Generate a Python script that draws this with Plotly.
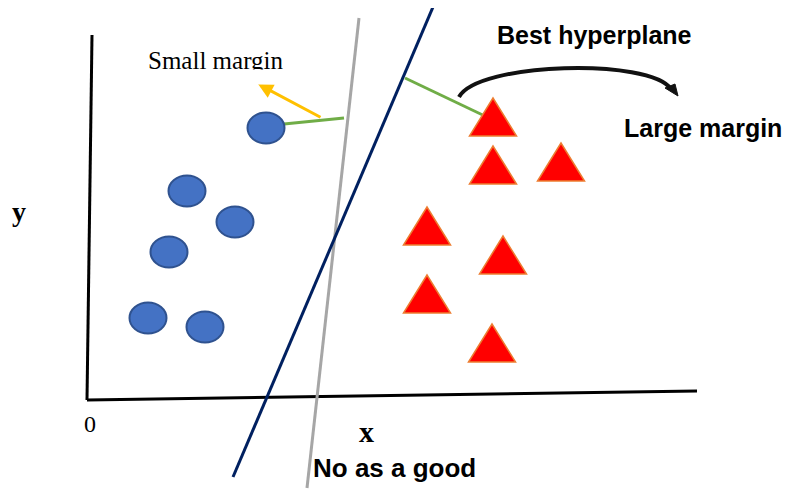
import plotly.graph_objects as go

# diagram drawn in pixel space of the original picture (y grows downward)
W, H = 791, 491
PAD = 8  # the page body adds 8px around the figure

# class A points (blue circles) and class B points (red triangles)
circle_x = [266, 187, 235, 169, 148, 205]
circle_y = [128, 191, 222, 252, 318, 327]
triangle_x = [493, 493, 561, 427, 503, 427, 492]
triangle_y = [117, 165, 162, 226, 255, 294, 343]

# axes of the sketch
y_axis_x = [92, 87]
y_axis_y = [35, 400]
x_axis_x = [87, 697]
x_axis_y = [400, 391]

# separating lines
gray_line_x = [359, 307]
gray_line_y = [18, 488]
best_line_x = [433, 233]
best_line_y = [7, 477]

# margin segments
small_margin_x = [284, 344]
small_margin_y = [124, 118]
large_margin_x = [405, 489]
large_margin_y = [78, 118]

circle_w, circle_h = 37, 31
tri_w, tri_h = 47, 38

fig = go.Figure()

shapes = []


def line(xs, ys, color, width):
    shapes.append(dict(type="line", xref="x", yref="y",
                       x0=xs[0], y0=ys[0], x1=xs[1], y1=ys[1],
                       line=dict(color=color, width=width)))


line(y_axis_x, y_axis_y, "black", 3)
line(x_axis_x, x_axis_y, "black", 3)
line(gray_line_x, gray_line_y, "#a6a6a6", 3)
line(best_line_x, best_line_y, "#002060", 3)
line(small_margin_x, small_margin_y, "#70ad47", 3)
line(large_margin_x, large_margin_y, "#70ad47", 3)

for cx, cy in zip(circle_x, circle_y):
    shapes.append(dict(type="circle", xref="x", yref="y",
                       x0=cx - circle_w / 2, x1=cx + circle_w / 2,
                       y0=cy - circle_h / 2, y1=cy + circle_h / 2,
                       fillcolor="#4472c4", line=dict(color="#2f528f", width=2)))

for tx, ty in zip(triangle_x, triangle_y):
    path = (f"M {tx - tri_w / 2},{ty + tri_h / 2} L {tx + tri_w / 2},{ty + tri_h / 2} "
            f"L {tx},{ty - tri_h / 2} Z")
    shapes.append(dict(type="path", xref="x", yref="y", path=path,
                       fillcolor="#ff0000", line=dict(color="#ed7d31", width=1.5)))

# curved arrow over the large margin
shapes.append(dict(type="path", xref="x", yref="y",
                   path="M 459,97 C 478,62 650,58 671,89",
                   line=dict(color="#111111", width=4)))
shapes.append(dict(type="path", xref="x", yref="y",
                   path="M 665,88 L 678,96 L 675,84 Z",
                   fillcolor="#111111", line=dict(color="#111111", width=1)))

fig.update_layout(shapes=shapes)

# invisible trace so the axes exist
fig.add_trace(go.Scatter(x=circle_x, y=circle_y, mode="markers",
                         marker=dict(opacity=0), hoverinfo="skip", showlegend=False))

annotations = [
    # orange arrow for the small margin
    dict(x=258, y=84, ax=322, ay=118, xref="x", yref="y", axref="x", ayref="y",
         text="", showarrow=True, arrowhead=2, arrowsize=1, arrowwidth=3,
         arrowcolor="#ffc000"),
    dict(x=215, y=60, text="Small margin", showarrow=False,
         font=dict(family="Liberation Serif", size=25, color="black")),
    # the original cuts the bottom of this label off
    dict(x=215, y=77, text=" ", showarrow=False, width=160, height=12,
         bgcolor="white", font=dict(size=8)),
    dict(x=594, y=35, text="<b>Best hyperplane</b>", showarrow=False,
         font=dict(family="Liberation Sans", size=25, color="black")),
    dict(x=703, y=128, text="<b>Large margin</b>", showarrow=False,
         font=dict(family="Liberation Sans", size=25, color="black")),
    dict(x=19, y=211, text="<b>y</b>", showarrow=False,
         font=dict(family="Liberation Serif", size=28, color="black")),
    dict(x=90, y=424, text="0", showarrow=False,
         font=dict(family="Liberation Serif", size=24, color="black")),
    dict(x=366, y=431, text="<b>x</b>", showarrow=False,
         font=dict(family="Liberation Serif", size=30, color="black")),
    dict(x=394, y=468, text="<b>No as a good</b>", showarrow=False,
         font=dict(family="Liberation Sans", size=26, color="black")),
]

fig.update_layout(
    annotations=annotations,
    width=W - PAD, height=H - PAD,
    margin=dict(l=0, r=0, t=0, b=0),
    paper_bgcolor="white", plot_bgcolor="white",
    xaxis=dict(range=[PAD, W], visible=False, fixedrange=True),
    yaxis=dict(range=[H, PAD], visible=False, fixedrange=True),
    showlegend=False,
)

fig.write_html("out.html")
